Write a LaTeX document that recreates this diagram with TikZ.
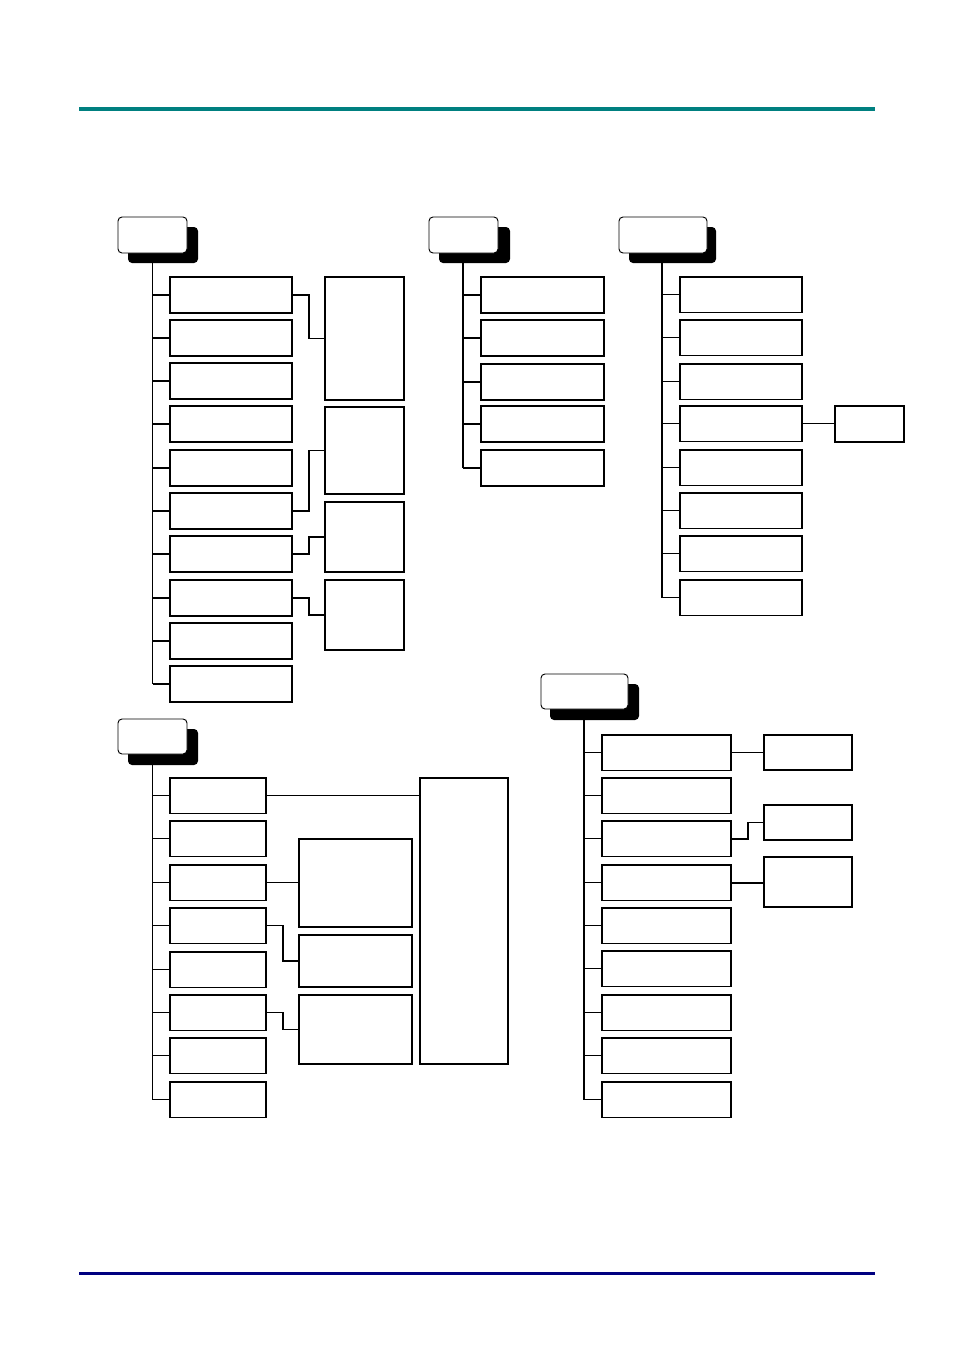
\documentclass[tikz,border=0pt]{standalone}
\definecolor{barteal}{RGB}{0,128,128}
\definecolor{barnavy}{RGB}{0,0,128}
\tikzset{
  box/.style={draw, line width=1pt, fill=white, rectangle, inner sep=0pt, outer sep=0pt},
  hdrbox/.style={draw, line width=0.7pt, fill=white, rectangle, rounded corners=3pt, inner sep=0pt, outer sep=0pt},
  shdbox/.style={fill=black, rectangle, rounded corners=3pt, inner sep=0pt, outer sep=0pt},
  link/.style={line width=1pt},
  tealbar/.style={line width=3pt, barteal},
  navybar/.style={line width=2.25pt, barnavy},
}
\newcommand\bx[6][box]{\node[#1, minimum width={(#5-#3)*0.75pt}, minimum height={(#6-#4)*0.75pt}] (#2) at ({(#3+#5)/2},{(#4+#6)/2}) {};}
\begin{document}
\begin{tikzpicture}[x=0.75pt,y=-0.75pt]
\useasboundingbox (0,0) rectangle (954,1350);
% bars
\coordinate (tb1) at (79,108.5); \coordinate (tb2) at (875,108.5);
\coordinate (bb1) at (79,1273); \coordinate (bb2) at (875,1273);
\draw[tealbar] (tb1) -- (tb2);
\draw[navybar] (bb1) -- (bb2);

% ---------- group 1 (top left)
\bx[shdbox]{s1}{128}{227}{198}{263}
\bx[hdrbox]{h1}{118}{217}{187}{253}
\coordinate (t1) at (152.7,263);
\foreach \i/\t in {1/277,2/320,3/363,4/406,5/450,6/493,7/536,8/580,9/623,10/666}{
  \bx{a\i}{170}{\t}{292}{\t+36}
  \draw[link] (t1 |- a\i.west) -- (a\i.west);
}
\draw[link] (t1) -- (t1 |- a10.west);
\bx{aA}{325}{277}{404}{400}
\bx{aB}{325}{407}{404}{494}
\bx{aC}{325}{502}{404}{572}
\bx{aD}{325}{580}{404}{650}
\draw[link] (a1.east) -- ++(17,0) |- (aA.west);
\draw[link] (a6.east) -- ++(17,0) |- (aB.west);
\draw[link] (a7.east) -- ++(17,0) |- (aC.west);
\draw[link] (a8.east) -- ++(17,0) |- (aD.west);

% ---------- group 2 (top middle)
\bx[shdbox]{s2}{439}{227}{510}{263}
\bx[hdrbox]{h2}{429}{217}{498}{253}
\coordinate (t2) at (463,263);
\foreach \i/\t in {1/277,2/320,3/364,4/406,5/450}{
  \bx{b\i}{481}{\t}{604}{\t+36}
  \draw[link] (t2 |- b\i.west) -- (b\i.west);
}
\draw[link] (t2) -- (t2 |- b5.west);

% ---------- group 3 (top right)
\bx[shdbox]{s3}{629}{227}{716}{263}
\bx[hdrbox]{h3}{619}{217}{707}{253}
\coordinate (t3) at (662,263);
\foreach \i/\t in {1/277,2/320,3/364,4/406,5/450,6/493,7/536,8/580}{
  \bx{c\i}{680}{\t}{802}{\t+35.5}
  \draw[link] (t3 |- c\i.west) -- (c\i.west);
}
\draw[link] (t3) -- (t3 |- c8.west);
\bx{cX}{835}{406}{904}{442}
\draw[link] (c4.east) -- (c4.east -| cX.west);

% ---------- group 4 (bottom left)
\bx[shdbox]{s4}{128}{729}{198}{765}
\bx[hdrbox]{h4}{118}{719}{187}{754}
\coordinate (t4) at (152.7,765);
\foreach \i/\t in {1/778,2/821,3/865,4/908,5/952,6/995,7/1038,8/1082}{
  \bx{d\i}{170}{\t}{266}{\t+35.5}
  \draw[link] (t4 |- d\i.west) -- (d\i.west);
}
\draw[link] (t4) -- (t4 |- d8.west);
\bx{dT}{420}{778}{508}{1064}
\bx{dE}{299}{839}{412}{927}
\bx{dF}{299}{935}{412}{987}
\bx{dG}{299}{995}{412}{1064}
\draw[link] (d1.east) -- (d1.east -| dT.west);
\draw[link] (d3.east) -- (d3.east -| dE.west);
\draw[link] (d4.east) -- ++(17,0) |- (dF.west);
\draw[link] (d6.east) -- ++(17,0) |- (dG.west);

% ---------- group 5 (bottom right)
\bx[shdbox]{s5}{550}{684}{639}{720}
\bx[hdrbox]{h5}{541}{674}{628}{709}
\coordinate (t5) at (584,720);
\foreach \i/\t in {1/735,2/778,3/821,4/865,5/908,6/951,7/995,8/1038,9/1082}{
  \bx{e\i}{602}{\t}{731}{\t+35.5}
  \draw[link] (t5 |- e\i.west) -- (e\i.west);
}
\draw[link] (t5) -- (t5 |- e9.west);
\bx{eH}{764}{735}{852}{770}
\bx{eI}{764}{805}{852}{840}
\bx{eJ}{764}{857}{852}{907}
\draw[link] (e1.east) -- (e1.east -| eH.west);
\draw[link, line width=1.4pt] (e3.east) -- ++(17,0) |- (eI.west);
\draw[link, line width=1.4pt] (e4.east) -- (e4.east -| eJ.west);
\end{tikzpicture}
\end{document}
